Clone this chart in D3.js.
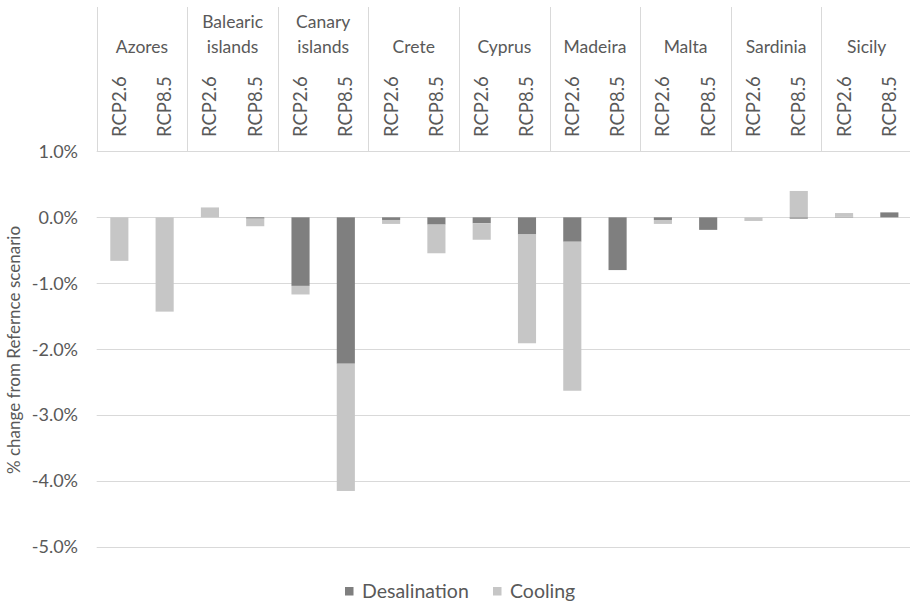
<!DOCTYPE html>
<html><head><meta charset="utf-8">
<script src="https://cdn.jsdelivr.net/npm/d3@7"></script>
<style>body{margin:0;background:#fff}svg{display:block}text{font-family:Lato,"Open Sans",sans-serif;fill:#595959}</style>
</head><body><svg id="c" width="910" height="602"></svg>
<script>
const regions = ["Azores","Balearic islands","Canary islands","Crete","Cyprus","Madeira","Malta","Sardinia","Sicily"];
const regionLines = [["Azores"],["Balearic","islands"],["Canary","islands"],["Crete"],["Cyprus"],["Madeira"],["Malta"],["Sardinia"],["Sicily"]];
const scenarios = ["RCP2.6","RCP8.5"];
const desalination = [0,0, 0,-0.02, -1.04,-2.22, -0.04,-0.11, -0.09,-0.26, -0.37,-0.80, -0.04,-0.19, 0,-0.02, 0.01,0.075];
const cooling = [-0.66,-1.43, 0.15,-0.115, -0.13,-1.93, -0.06,-0.435, -0.25,-1.65, -2.26,0, -0.06,0, -0.055,0.40, 0.055,0];
const seriesNames = ["Desalination","Cooling"];
const seriesColors = ["#7f7f7f","#c6c6c6"];
const yTicks = [1,0,-1,-2,-3,-4,-5];

const svg = d3.select("#c");
const pLeft = 96.7, pRight = 912, pTop = 151.4, pBottom = 547;
const x0 = d3.scaleBand().domain(regions).range([pLeft, pRight]).padding(0);
const x1 = d3.scaleBand().domain(scenarios).range([0, x0.bandwidth()]).padding(0);
const y = d3.scaleLinear().domain([-5, 1]).range([pBottom, pTop]);
const fmt = d3.formatLocale({decimal: ".", thousands: ",", grouping: [3], currency: ["", ""], minus: "-"}).format(".1%");

const rows = [];
regions.forEach((r, i) => scenarios.forEach((s, j) => {
  const k = i * 2 + j;
  rows.push({region: r, scenario: s, Desalination: desalination[k], Cooling: cooling[k]});
}));

// grid
svg.append("g").selectAll("line").data(yTicks).join("line")
  .attr("x1", pLeft).attr("x2", pRight)
  .attr("y1", d => Math.round(y(d)) + 0.5).attr("y2", d => Math.round(y(d)) + 0.5)
  .attr("stroke", "#d9d9d9").attr("stroke-width", 1);

// header separators
svg.append("g").selectAll("line").data(regions.concat(["_end"])).join("line")
  .attr("x1", (d, i) => Math.round(pLeft + i * x0.bandwidth()) + 0.5)
  .attr("x2", (d, i) => Math.round(pLeft + i * x0.bandwidth()) + 0.5)
  .attr("y1", 7).attr("y2", Math.round(y(1)))
  .attr("stroke", "#d9d9d9").attr("stroke-width", 1);

// y tick labels
svg.append("g").selectAll("text").data(yTicks).join("text")
  .attr("x", 78).attr("y", d => y(d)).attr("dy", "0.35em")
  .attr("text-anchor", "end").style("font-size", "18px")
  .text(d => fmt(d / 100));

// axis title
svg.append("text").attr("transform", "translate(20,350) rotate(-90)")
  .attr("text-anchor", "middle").style("font-size", "17px")
  .text("% change from Refernce scenario");

// category labels
const cat = svg.append("g").selectAll("text").data(regions).join("text")
  .attr("text-anchor", "middle").style("font-size", "17.5px");
cat.each(function(d, i) {
  const lines = regionLines[i];
  const t = d3.select(this);
  const cx = x0(d) + x0.bandwidth() / 2;
  lines.forEach((l, li) => {
    t.append("tspan").attr("x", cx).attr("y", 53 - (lines.length - 1 - li) * 25).text(l);
  });
});

// scenario labels
svg.append("g").selectAll("text").data(rows).join("text")
  .attr("transform", d => `translate(${x0(d.region) + x1(d.scenario) + x1.bandwidth() / 2 + 6.5},137) rotate(-90)`)
  .attr("text-anchor", "start").style("font-size", "18.5px")
  .text(d => d.scenario);

// bars
const stack = d3.stack().keys(seriesNames).offset(d3.stackOffsetDiverging);
const series = stack(rows);
const bw = x1.bandwidth() * 0.4;
svg.append("g").selectAll("g").data(series).join("g")
  .attr("fill", (d, i) => seriesColors[i])
  .selectAll("rect").data(d => d).join("rect")
  .attr("x", d => x0(d.data.region) + x1(d.data.scenario) + (x1.bandwidth() - bw) / 2)
  .attr("width", bw)
  .attr("y", d => y(Math.max(d[0], d[1])))
  .attr("height", d => Math.abs(y(d[0]) - y(d[1])));

// legend
const legend = svg.append("g");
const lx = [345, 493];
seriesNames.forEach((n, i) => {
  legend.append("rect").attr("x", lx[i]).attr("y", 587).attr("width", 8.5).attr("height", 8.5).attr("fill", seriesColors[i]);
  legend.append("text").attr("x", lx[i] + 17).attr("y", 591).attr("dy", "0.35em").style("font-size", "19.5px").text(n);
});
</script></body></html>
